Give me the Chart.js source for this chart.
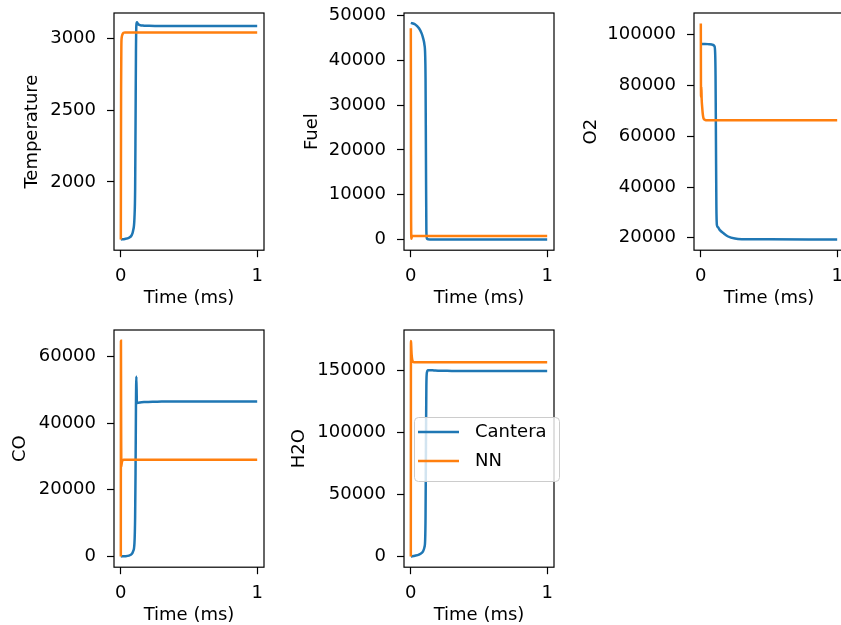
<!DOCTYPE html>
<html>
<head>
<meta charset="utf-8">
<script src="https://cdn.jsdelivr.net/npm/chart.js@4.4.1/dist/chart.umd.min.js"></script>
<style>
  html, body { margin: 0; padding: 0; background: #fff; overflow: hidden; }
  #fig { position: relative; width: 841px; height: 625px; overflow: hidden; }
  #fig canvas { position: absolute; }
</style>
</head>
<body>
<div id="fig"></div>
<script>
// time axis (ms)
const timeCantera = [0, 0.03, 0.06, 0.08, 0.09, 0.1, 0.105, 0.108, 0.111, 0.114, 0.118, 0.125, 0.14, 0.17, 0.2, 0.25, 0.3, 0.5, 1.0];
const timeNN = [0, 0.001, 0.002, 0.004, 0.006, 0.01, 0.015, 0.02, 0.03, 0.05, 0.1, 0.3, 0.6, 1.0];

// Cantera reference solution
const tempCantera = [1600, 1603, 1612, 1630, 1660, 1750, 1950, 2400, 2900, 3090, 3110, 3100, 3091, 3087, 3086, 3085, 3085, 3085, 3085];
const fuelCantera = [48400, 48100, 47200, 46000, 45000, 43500, 41500, 36000, 18000, 2000, 200, 20, 0, 0, 0, 0, 0, 0, 0];
const o2Cantera = [96400, 96400, 96300, 96200, 96000, 95500, 93000, 84000, 58000, 33000, 25000, 24200, 23000, 21600, 20500, 19700, 19450, 19370, 19350];
const coCantera = [0, 60, 250, 700, 1500, 4000, 12000, 25000, 45000, 54000, 46000, 46100, 46200, 46300, 46350, 46400, 46450, 46450, 46450];
const h2oCantera = [0, 600, 1500, 2800, 4200, 7500, 13000, 32000, 90000, 138000, 148500, 150300, 150400, 150200, 150000, 149900, 149800, 149700, 149600];

// network prediction
const tempNN = [1600, 2150, 2650, 2950, 3000, 3020, 3032, 3038, 3040, 3040, 3040, 3040, 3040, 3040];
const fuelNN = [47200, 26000, 6000, 150, 450, 680, 740, 740, 740, 740, 740, 740, 740, 740];
const o2NN = [104500, 80000, 75500, 79500, 75000, 71500, 68500, 67100, 66500, 66300, 66300, 66300, 66300, 66300];
const coNN = [0, 64700, 45000, 27000, 27800, 28600, 28900, 29000, 29000, 29000, 29000, 29000, 29000, 29000];
const h2oNN = [0, 174000, 172500, 167000, 163000, 159000, 157300, 156900, 156700, 156700, 156700, 156700, 156700, 156700];

// tick labels
const timeTicks = [0, 1];
const tempTicks = [2000, 2500, 3000];
const fuelTicks = [0, 10000, 20000, 30000, 40000, 50000];
const o2Ticks = [20000, 40000, 60000, 80000, 100000];
const coTicks = [0, 20000, 40000, 60000];
const h2oTicks = [0, 50000, 100000, 150000];

const seriesNames = ['Cantera', 'NN'];
const BLUE = '#1f77b4';
const ORANGE = '#ff7f0e';
const FONT = { family: '"DejaVu Sans", sans-serif', size: 18, lineHeight: 1.2 };
const HALF_LINE = FONT.size * FONT.lineHeight / 2;
const PAD = 10;

// subplot grid: axes box in page pixels and where the y label sits
const panels = [
  { label: 'Temperature', cantera: tempCantera, nn: tempNN, ticks: tempTicks, ylim: [1525, 3175],
    box: { x: 114, y: 13, w: 150, h: 237 }, labelX: 33 },
  { label: 'Fuel', cantera: fuelCantera, nn: fuelNN, ticks: fuelTicks, ylim: [-2410, 50620],
    box: { x: 404, y: 13, w: 150, h: 237 }, labelX: 313 },
  { label: 'O2', cantera: o2Cantera, nn: o2NN, ticks: o2Ticks, ylim: [15100, 108600],
    box: { x: 694, y: 13, w: 150, h: 237 }, labelX: 592 },
  { label: 'CO', cantera: coCantera, nn: coNN, ticks: coTicks, ylim: [-3235, 67935],
    box: { x: 114, y: 330, w: 150, h: 237 }, labelX: 21 },
  { label: 'H2O', cantera: h2oCantera, nn: h2oNN, ticks: h2oTicks, ylim: [-8700, 182800],
    box: { x: 404, y: 330, w: 150, h: 237 }, labelX: 300, legend: true }
];

function zip(xs, ys) {
  return xs.map((x, i) => ({ x: x, y: ys[i] }));
}

function noScalePadding(axis) {
  axis.paddingLeft = 0;
  axis.paddingRight = 0;
  axis.paddingTop = 0;
  axis.paddingBottom = 0;
}

// axes frame on all four sides
const framePlugin = {
  id: 'frame',
  afterDraw(chart) {
    const a = chart.chartArea;
    const ctx = chart.ctx;
    ctx.save();
    ctx.strokeStyle = '#000';
    ctx.lineWidth = 1.2;
    ctx.strokeRect(a.left, a.top, a.right - a.left, a.bottom - a.top);
    ctx.restore();
  }
};

const legendPlugin = {
  id: 'boxLegend',
  afterDraw(chart) {
    const a = chart.chartArea;
    const ctx = chart.ctx;
    const x = a.left + 10, y = a.top + 87, w = 145, h = 64;
    ctx.save();
    ctx.beginPath();
    ctx.roundRect(x + 0.5, y + 0.5, w, h, 4);
    ctx.fillStyle = 'rgba(255,255,255,0.8)';
    ctx.fill();
    ctx.strokeStyle = '#cccccc';
    ctx.lineWidth = 1;
    ctx.stroke();
    ctx.font = FONT.size + 'px ' + FONT.family;
    ctx.textBaseline = 'middle';
    ctx.textAlign = 'left';
    chart.data.datasets.forEach((ds, i) => {
      const ry = y + 15 + i * 29;
      ctx.strokeStyle = ds.borderColor;
      ctx.lineWidth = 2.5;
      ctx.beginPath();
      ctx.moveTo(x + 4, ry);
      ctx.lineTo(x + 45, ry);
      ctx.stroke();
      ctx.fillStyle = '#000';
      ctx.fillText(ds.label, x + 61, ry);
    });
    ctx.restore();
  }
};

const fig = document.getElementById('fig');

panels.forEach(p => {
  const left = Math.round(p.labelX - HALF_LINE);
  const top = p.box.y - PAD;
  const xAxisH = 285 + HALF_LINE - p.box.h;
  const width = p.box.x + p.box.w + PAD - left;
  const height = Math.round(PAD + p.box.h + xAxisH);
  const yAxisW = p.box.x - left;

  const canvas = document.createElement('canvas');
  canvas.width = width;
  canvas.height = height;
  canvas.style.left = left + 'px';
  canvas.style.top = top + 'px';
  canvas.style.width = width + 'px';
  canvas.style.height = height + 'px';
  fig.appendChild(canvas);

  const lineStyle = { borderWidth: 2.5, pointRadius: 0, fill: false, cubicInterpolationMode: 'monotone' };

  new Chart(canvas, {
    type: 'line',
    data: {
      datasets: [
        Object.assign({ label: seriesNames[0], data: zip(timeCantera, p.cantera), borderColor: BLUE, order: 2 }, lineStyle),
        Object.assign({ label: seriesNames[1], data: zip(timeNN, p.nn), borderColor: ORANGE, order: 1 }, lineStyle)
      ]
    },
    options: {
      responsive: false,
      animation: false,
      events: [],
      layout: { padding: { left: 0, top: PAD, right: PAD, bottom: 0 } },
      plugins: { legend: { display: false }, tooltip: { enabled: false } },
      scales: {
        x: {
          type: 'linear',
          min: -0.05,
          max: 1.05,
          afterBuildTicks: axis => { axis.ticks = timeTicks.map(v => ({ value: v })); },
          afterFit: axis => { axis.height = xAxisH; noScalePadding(axis); },
          grid: { drawOnChartArea: false, tickLength: 7, tickColor: '#000', tickWidth: 1.2 },
          border: { display: false },
          ticks: { color: '#000', font: FONT, padding: 8, maxRotation: 0, autoSkip: false,
                   callback: v => String(v) },
          title: { display: true, text: 'Time (ms)', color: '#000', font: FONT, padding: 0 }
        },
        y: {
          type: 'linear',
          min: p.ylim[0],
          max: p.ylim[1],
          afterBuildTicks: axis => { axis.ticks = p.ticks.map(v => ({ value: v })); },
          afterFit: axis => { axis.width = yAxisW; noScalePadding(axis); },
          grid: { drawOnChartArea: false, tickLength: 7, tickColor: '#000', tickWidth: 1.2 },
          border: { display: false },
          ticks: { color: '#000', font: FONT, padding: 11, autoSkip: false,
                   callback: v => String(v) },
          title: { display: true, text: p.label, color: '#000', font: FONT, padding: 0 }
        }
      }
    },
    plugins: p.legend ? [framePlugin, legendPlugin] : [framePlugin]
  });
});
</script>
</body>
</html>
